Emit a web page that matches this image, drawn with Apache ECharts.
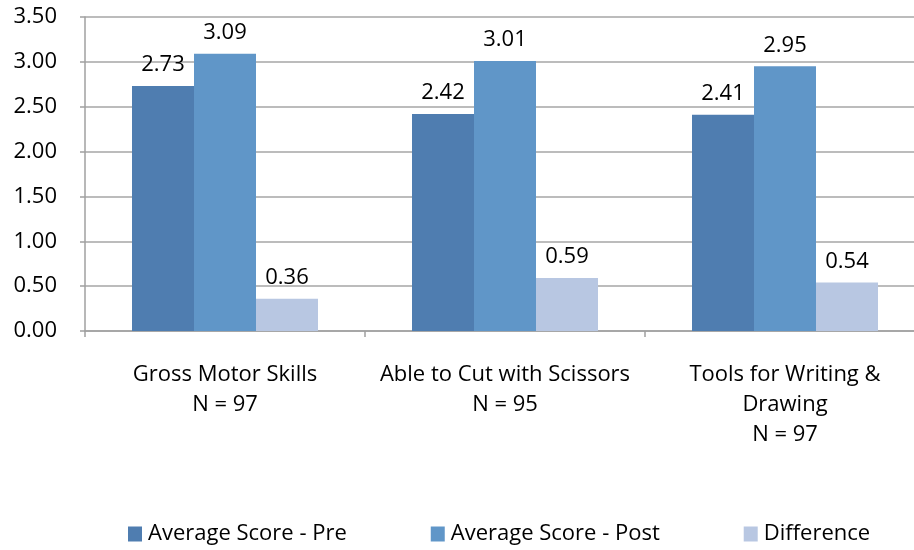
<!DOCTYPE html>
<html>
<head>
<meta charset="utf-8">
<script src="https://cdn.jsdelivr.net/npm/echarts@6/dist/echarts.min.js"></script>
<style>
html,body{margin:0;padding:0;background:#fff;overflow:hidden;width:914px;height:550px;}
#c{width:940px;height:550px;}
</style>
</head>
<body>
<div id="c"></div>
<script>
const categories = ['Gross Motor Skills', 'Able to Cut with Scissors', 'Tools for Writing &\nDrawing'];
const sampleSizes = [97, 95, 97];
const seriesNames = ['Average Score - Pre', 'Average Score - Post', 'Difference'];
const preScores = [2.73, 2.42, 2.41];
const postScores = [3.09, 3.01, 2.95];
const differences = [0.36, 0.59, 0.54];
const colors = ['#4f7db0', '#6096c8', '#b8c7e2'];

const FONT = 'Open Sans';
const FS = 22;
const labels = categories.map((c, i) => c + '\nN = ' + sampleSizes[i]);
const values = [preScores, postScores, differences];

const chart = echarts.init(document.getElementById('c'), null, {renderer: 'canvas'});
chart.setOption({
  animation: false,
  textStyle: {fontFamily: FONT},
  grid: {left: 85, top: 17, width: 840, height: 314, containLabel: false},
  legend: {
    bottom: 0,
    left: 123,
    itemWidth: 14,
    itemHeight: 15,
    itemGap: 84,
    icon: 'rect',
    textStyle: {fontFamily: FONT, fontSize: FS, color: '#000', padding: [0, 0, 0, 1]},
    data: seriesNames
  },
  xAxis: {
    type: 'category',
    data: labels,
    axisLine: {lineStyle: {color: '#a0a0a0', width: 1.5}},
    axisTick: {show: true, length: 6, lineStyle: {color: '#a0a0a0', width: 1.5}},
    axisLabel: {fontFamily: FONT, fontSize: FS, color: '#000', lineHeight: 30, margin: 29, interval: 0}
  },
  yAxis: {
    type: 'value',
    min: 0,
    max: 3.5,
    interval: 0.5,
    axisLine: {show: true, lineStyle: {color: '#a0a0a0', width: 1.5}},
    axisTick: {show: true, length: 5, lineStyle: {color: '#a0a0a0', width: 1.5}},
    splitLine: {lineStyle: {color: '#a6a6a6', width: 1.5}},
    axisLabel: {fontFamily: FONT, fontSize: FS, color: '#000', margin: 28, formatter: v => v.toFixed(2)}
  },
  series: seriesNames.map((name, i) => ({
    name: name,
    type: 'bar',
    data: values[i],
    barWidth: 62,
    barGap: '0%',
    itemStyle: {color: colors[i]},
    label: {
      show: true,
      position: 'top',
      distance: 10,
      fontFamily: FONT,
      fontSize: FS,
      color: '#000',
      formatter: p => p.value.toFixed(2)
    }
  }))
});
</script>
</body>
</html>
